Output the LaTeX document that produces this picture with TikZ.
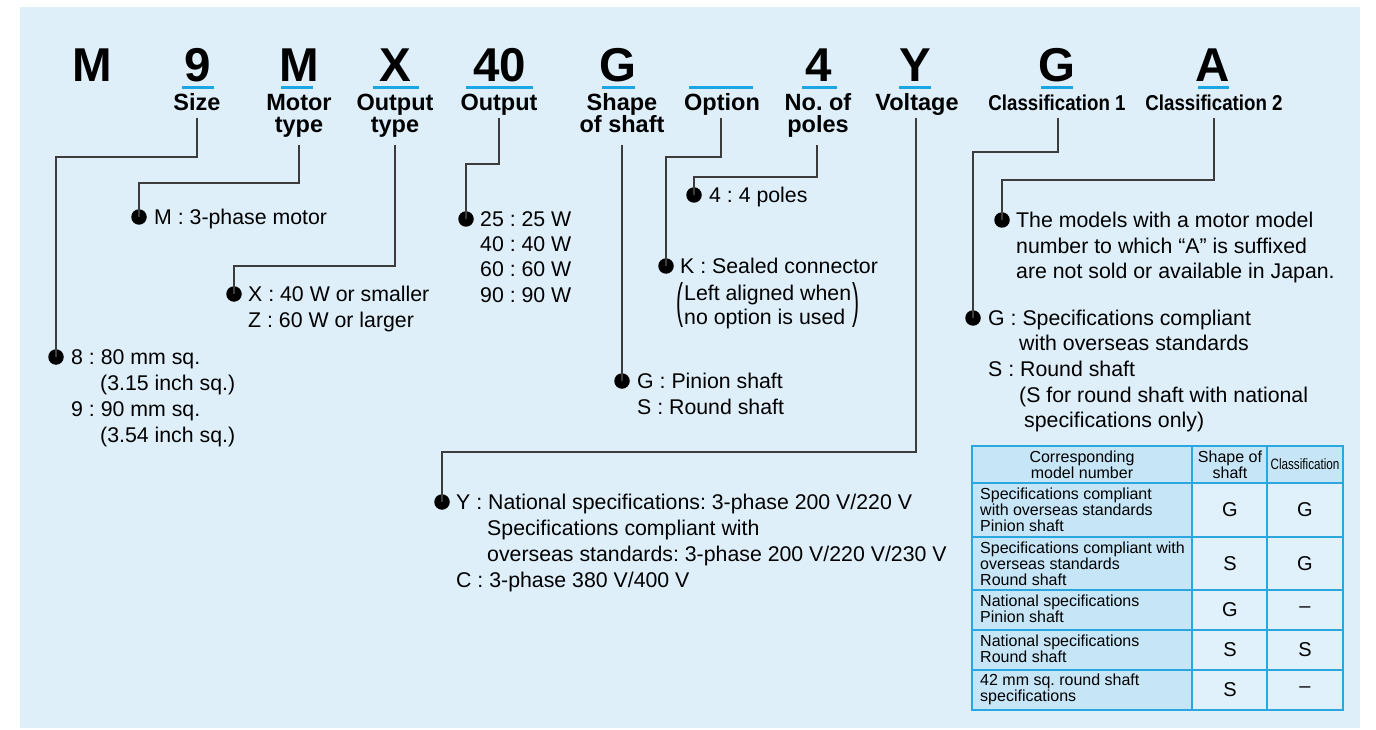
\documentclass[tikz,border=0pt]{standalone}
\usepackage{fontspec}
\setmainfont{Liberation Sans}
\usepackage{graphicx}
\frenchspacing
\definecolor{panel}{HTML}{DEEFFA}
\definecolor{ubarc}{HTML}{1AA5E3}
\definecolor{tlinec}{HTML}{2AA7DF}
\definecolor{tdark}{HTML}{C6E6F8}
\definecolor{tlight}{HTML}{E0F1FB}
\definecolor{linec}{HTML}{3C3C3C}
\tikzset{
  big/.style={font=\fontsize{47.5}{50}\selectfont\bfseries, anchor=base, inner sep=0pt},
  lab/.style={font=\fontsize{23.5}{23}\selectfont\bfseries, anchor=base, inner sep=0pt},
  clab/.style={font=\fontsize{21.5}{23}\selectfont\bfseries, anchor=base, inner sep=0pt},
  ubar/.style={draw=ubarc, line width=3pt},
  txt/.style={font=\fontsize{21.3}{26}\selectfont, anchor=base west, inner sep=0pt},
  dot/.style={circle, fill=black, inner sep=0pt, minimum size=15.5pt},
  conn/.style={draw=linec, line width=1.2pt},
  tgrid/.style={draw=tlinec, line width=1.5pt},
  tsmall/.style={font=\fontsize{16}{16}\selectfont, inner sep=0pt},
  tbig/.style={font=\fontsize{20}{20}\selectfont, inner sep=0pt, anchor=center},
  paren/.style={font=\fontsize{21}{26}\selectfont, inner sep=0pt, anchor=center}
}
\begin{document}
\begin{tikzpicture}[x=1pt,y=-1pt]
\useasboundingbox (0,0) rectangle (1376,730);
\fill[white] (0,0) rectangle (1376,730);
\fill[panel] (20,7) rectangle (1360,728);

% big code letters
\node[big] (bM1) at (92,82) {M};
\node[big] (b9) at (198,82) {9};
\node[big] (bM2) at (299,82) {M};
\node[big] (bX) at (395,82) {X};
\node[big] (b40) at (500,82) {40};
\node[big] (bG1) at (618,82) {G};
\node[big] (b4) at (819,82) {4};
\node[big] (bY) at (915,82) {Y};
\node[big] (bG2) at (1057,82) {G};
\node[big] (bA) at (1213,82) {A};

% blue underlines
\draw[ubar] (182,87.5) -- (214,87.5);
\draw[ubar] (281,87.5) -- (313,87.5);
\draw[ubar] (373,87.5) -- (419,87.5);
\draw[ubar] (466,87.5) -- (533,87.5);
\draw[ubar] (602,87.5) -- (635,87.5);
\draw[ubar] (689,87.5) -- (753,87.5);
\draw[ubar] (802,87.5) -- (837,87.5);
\draw[ubar] (899,87.5) -- (931,87.5);
\draw[ubar] (1041,87.5) -- (1073,87.5);
\draw[ubar] (1198,87.5) -- (1229,87.5);

% labels
\node[lab] (lsize) at (197,111) {Size};
\node[lab] (lmotor) at (299,111) {Motor};
\node[lab] (lmotor2) at (299,133) {type};
\node[lab] (lotype) at (395,111) {Output};
\node[lab] (lotype2) at (395,133) {type};
\node[lab] (lout) at (499,111) {Output};
\node[lab] (lshape) at (622,111) {Shape};
\node[lab] (lshape2) at (622,133) {of shaft};
\node[lab] (lopt) at (722,111) {Option};
\node[lab] (lpoles) at (818,111) {No. of};
\node[lab] (lpoles2) at (818,133) {poles};
\node[lab] (lvolt) at (917,111) {Voltage};
\node[clab] (lcl1) at (1057,111) {\scalebox{0.87}[1]{Classification 1}};
\node[clab] (lcl2) at (1214,111) {\scalebox{0.87}[1]{Classification 2}};

% connector start points (just under labels)
\coordinate (s1) at (197,118);
\coordinate (s2) at (299,145);
\coordinate (s3) at (395,145);
\coordinate (s4) at (499,118);
\coordinate (s5) at (622,145);
\coordinate (s6) at (721,118);
\coordinate (s7) at (817,145);
\coordinate (s8) at (916,118);
\coordinate (s9) at (1058,118);
\coordinate (s10) at (1214,118);

% corner points
\coordinate (k1) at (56,157);
\coordinate (k2) at (139,183);
\coordinate (k3) at (234,266);
\coordinate (k4) at (466,164);
\coordinate (k6) at (666,157);
\coordinate (k7) at (694,177);
\coordinate (k8) at (442,452);
\coordinate (k9) at (973,152);
\coordinate (k10) at (1002,180);

% dots
\node[dot] (d1) at (56,357) {};
\node[dot] (d2) at (139,217) {};
\node[dot] (d3) at (234,294) {};
\node[dot] (d4) at (466,219) {};
\node[dot] (d5) at (622,381) {};
\node[dot] (d6) at (666,266) {};
\node[dot] (d7) at (694,195) {};
\node[dot] (d8) at (442,502) {};
\node[dot] (d9) at (1002,220) {};
\node[dot] (d10) at (973,318) {};

% connectors
\draw[conn] (s1) |- (k1) -- (d1.center);
\draw[conn] (s2) |- (k2) -- (d2.center);
\draw[conn] (s3) |- (k3) -- (d3.center);
\draw[conn] (s4) |- (k4) -- (d4.center);
\draw[conn] (s5) -- (d5.center);
\draw[conn] (s6) |- (k6) -- (d6.center);
\draw[conn] (s7) |- (k7) -- (d7.center);
\draw[conn] (s8) |- (k8) -- (d8.center);
\draw[conn] (s9) |- (k9) -- (d10.center);
\draw[conn] (s10) |- (k10) -- (d9.center);

% texts
\node[txt] (t1a) at (71,364.5) {8 : 80 mm sq.};
\node[txt] (t1b) at (100,390.5) {(3.15 inch sq.)};
\node[txt] (t1c) at (71,416.5) {9 : 90 mm sq.};
\node[txt] (t1d) at (100,442.5) {(3.54 inch sq.)};

\node[txt] (t2a) at (154,224.5) {M : 3-phase motor};

\node[txt] (t3a) at (248,301.5) {X : 40 W or smaller};
\node[txt] (t3b) at (248,327.5) {Z : 60 W or larger};

\node[txt] (t4a) at (480,226.5) {25 : 25 W};
\node[txt] (t4b) at (480,251.5) {40 : 40 W};
\node[txt] (t4c) at (480,276.5) {60 : 60 W};
\node[txt] (t4d) at (480,302) {90 : 90 W};

\node[txt] (t5a) at (637,388.5) {G : Pinion shaft};
\node[txt] (t5b) at (637,414.5) {S : Round shaft};

\node[txt] (t6a) at (680,273.5) {K : Sealed connector};
\node[txt] (t6b) at (684,300.5) {Left aligned when};
\node[txt] (t6c) at (684,324.5) {no option is used};
\node[paren] (p6l) at (680,305) {\scalebox{1}[2.3]{(}};
\node[paren, anchor=west] (p6r) at ([xshift=0.5pt]t6b.east |- 0,305) {\scalebox{1}[2.3]{)}};

\node[txt] (t7a) at (709,202.5) {4 : 4 poles};

\node[txt] (t8a) at (456,509.5) {Y : National specifications: 3-phase 200 V/220 V};
\node[txt] (t8b) at (487,535.5) {Specifications compliant with};
\node[txt] (t8c) at (487,561.5) {overseas standards: 3-phase 200 V/220 V/230 V};
\node[txt] (t8d) at (456,587.5) {C : 3-phase 380 V/400 V};

\node[txt] (t9a) at (1016,227.5) {The models with a motor model};
\node[txt] (t9b) at (1016,253.5) {number to which “A” is suffixed};
\node[txt] (t9c) at (1016,278.5) {are not sold or available in Japan.};

\node[txt] (t10a) at (988,325.5) {G : Specifications compliant};
\node[txt] (t10b) at (1019,350.5) {with overseas standards};
\node[txt] (t10c) at (988,376.5) {S : Round shaft};
\node[txt] (t10d) at (1019,402.5) {(S for round shaft with national};
\node[txt] (t10e) at (1024,427.5) {specifications only)};

% table
\fill[tdark] (972,446) rectangle (1343,483);
\fill[tdark] (972,483) rectangle (1192,710);
\fill[tlight] (1192,483) rectangle (1343,710);
\draw[tgrid] (972,446) rectangle (1343,710);
\draw[tgrid] (1192,446) -- (1192,710);
\draw[tgrid] (1267,446) -- (1267,710);
\foreach \yy in {483,537,590,630,670} {\draw[tgrid] (972,\yy) -- (1343,\yy);}

\node[tsmall, align=center] (h1) at (1082,465) {Corresponding\\model number};
\node[tsmall, align=center] (h2) at (1230,465) {Shape of\\shaft};
\node[tsmall, font=\fontsize{15}{15}\selectfont] (h3) at (1305,464) {\scalebox{0.78}[1]{Classification}};

\node[tsmall, align=left, anchor=west] (r1) at (980,510) {Specifications compliant\\with overseas standards\\Pinion shaft};
\node[tsmall, align=left, anchor=west] (r2) at (980,563.5) {Specifications compliant with\\overseas standards\\Round shaft};
\node[tsmall, align=left, anchor=west] (r3) at (980,609) {National specifications\\Pinion shaft};
\node[tsmall, align=left, anchor=west] (r4) at (980,649) {National specifications\\Round shaft};
\node[tsmall, align=left, anchor=west] (r5) at (980,689) {42 mm sq. round shaft\\specifications};

\node[tbig] (r1s) at (1230,510) {G};
\node[tbig] (r1c) at (1305,510) {G};
\node[tbig] (r2s) at (1230,563.5) {S};
\node[tbig] (r2c) at (1305,563.5) {G};
\node[tbig] (r3s) at (1230,610) {G};
\node[tbig] (r3c) at (1305,610) {–};
\node[tbig] (r4s) at (1230,650) {S};
\node[tbig] (r4c) at (1305,650) {S};
\node[tbig] (r5s) at (1230,690) {S};
\node[tbig] (r5c) at (1305,690) {–};
\end{tikzpicture}
\end{document}
